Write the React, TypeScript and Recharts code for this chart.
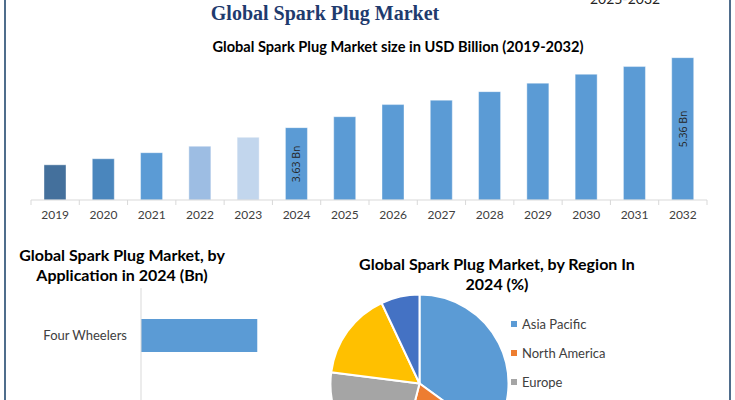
import React from 'react';
import { BarChart, Bar, XAxis, YAxis, Cell, LabelList, PieChart, Pie, Legend } from 'recharts';

const YEARS = ['2019', '2020', '2021', '2022', '2023', '2024', '2025', '2026', '2027', '2028', '2029', '2030', '2031', '2032'];
const MARKET_SIZE = [2.71, 2.86, 3.01, 3.17, 3.39, 3.63, 3.9, 4.2, 4.31, 4.52, 4.73, 4.95, 5.14, 5.36];
const YEAR_COLORS = ['#44709c', '#4a86bd', '#5b9bd5', '#9dbde3', '#c2d6ed', '#5b9bd5', '#5b9bd5', '#5b9bd5', '#5b9bd5', '#5b9bd5', '#5b9bd5', '#5b9bd5', '#5b9bd5', '#5b9bd5'];
const LABELED_YEARS = ['2024', '2032'];

const APPLICATIONS = ['Four Wheelers'];
const APPLICATION_VALUES = [2.18];

const REGIONS = ['Asia Pacific', 'North America', 'Europe', 'Middle East and Africa', 'South America'];
const REGION_SHARES = [35, 19, 23, 16, 7];
const REGION_COLORS = ['#5b9bd5', '#ed7d31', '#a5a5a5', '#ffc000', '#4472c4'];

const marketData = YEARS.map((year, i) => ({ year, value: MARKET_SIZE[i], color: YEAR_COLORS[i] }));
const appData = APPLICATIONS.map((name, i) => ({ name, value: APPLICATION_VALUES[i] }));
const regionData = REGIONS.map((name, i) => ({ name, value: REGION_SHARES[i], color: REGION_COLORS[i] }));

const FONT = 'Lato, "Open Sans", sans-serif';
const LABEL_FONT = '"Open Sans", sans-serif';
const BAR_W = 735;
const BAR_MARGIN = { top: 50, right: 28, left: 31, bottom: 0 };
const HALF_STEP = (BAR_W - BAR_MARGIN.left - BAR_MARGIN.right) / YEARS.length / 2;

const YearTick = (props: any) => {
  const { x, y, payload, index } = props;
  return (
    <g>
      <line x1={x - HALF_STEP} y1={y} x2={x - HALF_STEP} y2={y + 5} stroke="#d9d9d9" />
      {index === YEARS.length - 1 && <line x1={x + HALF_STEP} y1={y} x2={x + HALF_STEP} y2={y + 5} stroke="#d9d9d9" />}
      <text x={x} y={y + 19} textAnchor="middle" fontSize={12} fill="#404040" style={{ fontFamily: FONT }}>{payload.value}</text>
    </g>
  );
};

const BarValueLabel = (props: any) => {
  const { x, y, width, height, value, index } = props;
  if (!LABELED_YEARS.includes(YEARS[index])) return null;
  const cx = x + width / 2;
  const cy = y + height / 2;
  return (
    <text x={cx} y={cy} transform={`rotate(-90 ${cx} ${cy})`} textAnchor="middle" dominantBaseline="central" fontSize={10.5} fill="#262626" style={{ fontFamily: LABEL_FONT }}>
      {`${Number(value).toFixed(2)} Bn`}
    </text>
  );
};

const AppTick = (props: any) => {
  const { x, y, payload } = props;
  return (
    <text x={x - 14} y={y} textAnchor="end" dominantBaseline="central" fontSize={13} fill="#404040" style={{ fontFamily: FONT }}>{payload.value}</text>
  );
};

const RegionLegend = () => (
  <div style={{ fontFamily: FONT }}>
    {regionData.map((d) => (
      <div key={d.name} style={{ display: 'flex', alignItems: 'center', height: 29, fontSize: 13, color: '#404040', whiteSpace: 'nowrap' }}>
        <span style={{ width: 6, height: 6, background: d.color, display: 'inline-block', marginRight: 5 }} />
        <span>{d.name}</span>
      </div>
    ))}
  </div>
);

const abs = (extra: React.CSSProperties): React.CSSProperties => ({ position: 'absolute', ...extra });

export default function App() {
  return (
    <div style={abs({ left: 0, top: 0, width: 735, height: 400, overflow: 'hidden', background: '#fff' })}>
      <div style={abs({ left: 4, top: 0, width: 2, height: 400, background: '#4f6d8c' })} />
      <div style={abs({ left: 729, top: 0, width: 2, height: 400, background: '#4f6d8c' })} />

      <div style={abs({ left: 590, top: -8, fontSize: 14, lineHeight: '14px', fontFamily: FONT, color: '#222' })}>2025-2032</div>
      <div style={abs({ left: 0, width: 650, top: 1, textAlign: 'center', fontFamily: '"Liberation Serif", serif', fontWeight: 'bold', fontSize: 20, lineHeight: '24px', color: '#1f3b6e' })}>
        Global Spark Plug Market
      </div>
      <div style={abs({ left: 0, width: 796, top: 38, textAlign: 'center', fontFamily: FONT, fontWeight: 'bold', fontSize: 14.6, lineHeight: '18px', color: '#000' })}>
        Global Spark Plug Market size in USD Billion (2019-2032)
      </div>

      <div style={abs({ left: 0, top: 0 })}>
        <BarChart width={BAR_W} height={230} data={marketData} margin={BAR_MARGIN}>
          <XAxis dataKey="year" axisLine={{ stroke: '#d9d9d9' }} tickLine={false} tickSize={0} tickMargin={0} tick={<YearTick />} interval={0} height={30} />
          <YAxis hide domain={[1.84, 5.55]} type="number" allowDataOverflow />
          <Bar dataKey="value" barSize={22} isAnimationActive={false} stroke="#ffffff" strokeOpacity={0.4}>
            {marketData.map((d) => <Cell key={d.year} fill={d.color} />)}
            <LabelList dataKey="value" content={<BarValueLabel />} />
          </Bar>
        </BarChart>
      </div>

      <div style={abs({ left: 0, width: 244, top: 245, textAlign: 'center', fontFamily: FONT, fontWeight: 'bold', fontSize: 16, lineHeight: '20px', color: '#000' })}>
        Global Spark Plug Market, by<br />Application in 2024 (Bn)
      </div>

      <div style={abs({ left: 0, top: 288 })}>
        <BarChart width={320} height={160} data={appData} layout="vertical" margin={{ top: 0, right: 19, left: 0, bottom: 0 }}>
          <XAxis type="number" hide domain={[0, 3]} />
          <YAxis type="category" dataKey="name" width={141} axisLine={{ stroke: '#d9d9d9' }} tickLine={false} tickSize={0} tickMargin={0} tick={<AppTick />} padding={{ top: 0, bottom: 66 }} />
          <Bar dataKey="value" barSize={33} fill="#5b9bd5" isAnimationActive={false} />
        </BarChart>
      </div>

      <div style={abs({ left: 300, width: 394, top: 254, textAlign: 'center', fontFamily: FONT, fontWeight: 'bold', fontSize: 16, lineHeight: '20px', color: '#000' })}>
        Global Spark Plug Market, by Region In<br />2024 (%)
      </div>

      <div style={abs({ left: 300, top: 240 })}>
        <PieChart width={435} height={260} margin={{ top: 0, right: 0, left: 0, bottom: 0 }}>
          <Pie data={regionData} dataKey="value" nameKey="name" cx={119.5} cy={143.5} outerRadius={89} startAngle={90} endAngle={-270} stroke="#ffffff" strokeWidth={2} isAnimationActive={false}>
            {regionData.map((d) => <Cell key={d.name} fill={d.color} />)}
          </Pie>
          <Legend layout="vertical" content={<RegionLegend />} wrapperStyle={{ left: 211, top: 69, width: 220 }} />
        </PieChart>
      </div>
    </div>
  );
}
